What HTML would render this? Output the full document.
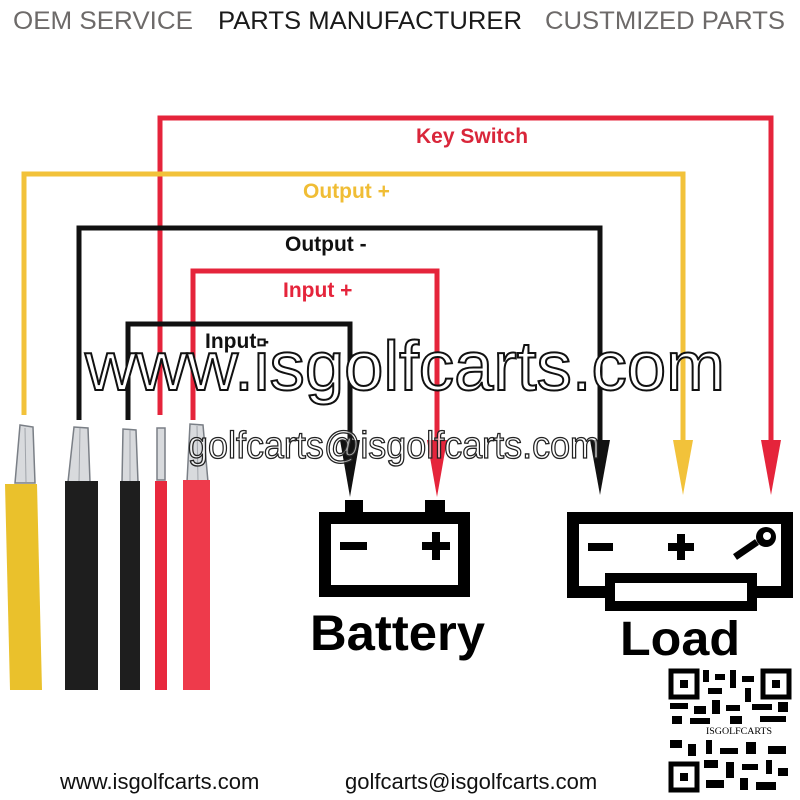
<!DOCTYPE html>
<html><head><meta charset="utf-8"><style>html,body{margin:0;padding:0;background:#fff}svg{display:block}</style></head><body>
<svg width="800" height="800" viewBox="0 0 800 800" xmlns="http://www.w3.org/2000/svg" font-family="Liberation Sans, Arial, sans-serif">
<rect width="800" height="800" fill="#fff"/>
<text x="13" y="29" font-size="25" fill="#6d6a69" textLength="180" lengthAdjust="spacingAndGlyphs">OEM SERVICE</text>
<text x="218" y="29" font-size="25" fill="#1a1a1a" textLength="304" lengthAdjust="spacingAndGlyphs">PARTS MANUFACTURER</text>
<text x="545" y="29" font-size="25" fill="#6d6a69" textLength="240" lengthAdjust="spacingAndGlyphs">CUSTMIZED PARTS</text>

<g fill="none" stroke-width="5" stroke-linejoin="miter">
<polyline points="160,415 160,118 771,118 771,450" stroke="#e5243b"/>
<polyline points="24,415 24,174 683,174 683,450" stroke="#f2c23a"/>
<polyline points="79,420 79,228 600,228 600,450" stroke="#111"/>
<polyline points="193,420 193,271 437,271 437,450" stroke="#e5243b"/>
<polyline points="128,420 128,324 350,324 350,450" stroke="#111"/>
</g>
<polygon points="340,440 360,440 350,497" fill="#111"/>
<polygon points="427,440 447,440 437,497" fill="#e5243b"/>
<polygon points="590,440 610,440 600,495" fill="#111"/>
<polygon points="673,440 693,440 683,495" fill="#f2c23a"/>
<polygon points="761,440 781,440 771,495" fill="#e5243b"/>

<g font-weight="bold" font-size="21">
<text x="416" y="143" fill="#d9263a">Key Switch</text>
<text x="303" y="198" fill="#f0bd35">Output +</text>
<text x="285" y="251" fill="#111">Output -</text>
<text x="283" y="297" fill="#e5243b">Input +</text>
<text x="205" y="348" fill="#111">Input -</text>
</g>

<g fill="#d8dadd" stroke="#7a7f86" stroke-width="1.5">
<polygon points="15,483 35,483 33,427 20,425"/>
<polygon points="68,482 90,482 88,428 74,427"/>
<polygon points="122,482 138,482 136,430 123,429"/>
<rect x="157" y="428" width="8" height="52"/>
<polygon points="187,482 208,482 203,425 190,424"/>
</g>
<g stroke="#a0a4aa" stroke-width="1">
<line x1="25" y1="428" x2="26" y2="482"/><line x1="80" y1="428" x2="79" y2="482"/><line x1="130" y1="430" x2="130" y2="482"/><line x1="197" y1="426" x2="198" y2="482"/>
</g>
<polygon points="5,484 37,484 42,690 10,690" fill="#eac12c"/>
<rect x="65" y="481" width="33" height="209" fill="#1e1e1e"/>
<rect x="120" y="481" width="20" height="209" fill="#1e1e1e"/>
<rect x="155" y="481" width="12" height="209" fill="#e8283d"/>
<rect x="183" y="480" width="27" height="210" fill="#ee3a4b"/>

<text x="85" y="390" font-size="70" fill="#fff" stroke="#111" stroke-width="2" textLength="640" lengthAdjust="spacingAndGlyphs">www.isgolfcarts.com</text>
<text x="188" y="458" font-size="38" fill="#fff" fill-opacity="0.6" stroke="#222" stroke-width="1.3" textLength="412" lengthAdjust="spacingAndGlyphs">golfcarts@isgolfcarts.com</text>

<rect x="345" y="500" width="18" height="14" fill="#000"/>
<rect x="425" y="500" width="20" height="14" fill="#000"/>
<rect x="325" y="518" width="139" height="73" fill="none" stroke="#000" stroke-width="12"/>
<rect x="340" y="542" width="27" height="8" fill="#000"/>
<rect x="422" y="542" width="28" height="8" fill="#000"/>
<rect x="432" y="532" width="8" height="28" fill="#000"/>
<text x="310" y="650" font-size="50" font-weight="bold" textLength="175" lengthAdjust="spacingAndGlyphs">Battery</text>

<rect x="573" y="518" width="214" height="74" fill="none" stroke="#000" stroke-width="12"/>
<rect x="610" y="578" width="142" height="28" fill="#fff" stroke="#000" stroke-width="10"/>
<rect x="588" y="543" width="25" height="8" fill="#000"/>
<rect x="668" y="543" width="26" height="8" fill="#000"/>
<rect x="677" y="534" width="8" height="26" fill="#000"/>
<line x1="735" y1="557" x2="757" y2="542" stroke="#000" stroke-width="7"/>
<circle cx="766" cy="537" r="10" fill="#000"/>
<circle cx="767" cy="536" r="4" fill="#fff"/>
<text x="620" y="655" font-size="48" font-weight="bold" textLength="120" lengthAdjust="spacingAndGlyphs">Load</text>

<text x="60" y="789" font-size="22" fill="#111">www.isgolfcarts.com</text>
<text x="345" y="789" font-size="22" fill="#111">golfcarts@isgolfcarts.com</text>

<g fill="#000">
<rect x="670" y="670" width="120" height="122" fill="#fff"/>
<rect x="671" y="671" width="26" height="26" fill="none" stroke="#000" stroke-width="5"/><rect x="680" y="680" width="8" height="8"/>
<rect x="763" y="671" width="26" height="26" fill="none" stroke="#000" stroke-width="5"/><rect x="772" y="680" width="8" height="8"/>
<rect x="671" y="764" width="26" height="26" fill="none" stroke="#000" stroke-width="5"/><rect x="680" y="773" width="8" height="8"/>
<rect x="703" y="670" width="6" height="12"/><rect x="715" y="674" width="10" height="6"/><rect x="730" y="670" width="6" height="18"/><rect x="742" y="676" width="12" height="6"/><rect x="708" y="688" width="14" height="6"/><rect x="745" y="688" width="6" height="14"/>
<rect x="670" y="703" width="18" height="6"/><rect x="694" y="706" width="12" height="8"/><rect x="712" y="700" width="8" height="14"/><rect x="726" y="705" width="14" height="6"/><rect x="752" y="704" width="20" height="6"/><rect x="778" y="702" width="10" height="10"/>
<rect x="672" y="716" width="10" height="8"/><rect x="690" y="718" width="20" height="6"/><rect x="730" y="716" width="12" height="8"/><rect x="760" y="716" width="26" height="6"/>
<rect x="670" y="740" width="12" height="8"/><rect x="688" y="744" width="8" height="12"/><rect x="706" y="740" width="6" height="14"/><rect x="720" y="748" width="18" height="6"/><rect x="746" y="742" width="10" height="12"/><rect x="768" y="746" width="18" height="8"/>
<rect x="704" y="760" width="14" height="8"/><rect x="726" y="762" width="8" height="16"/><rect x="742" y="764" width="16" height="6"/><rect x="766" y="760" width="6" height="14"/><rect x="778" y="768" width="10" height="8"/>
<rect x="706" y="780" width="18" height="8"/><rect x="740" y="778" width="8" height="12"/><rect x="756" y="782" width="20" height="8"/>
</g>
<rect x="704" y="724" width="70" height="12" fill="#fff"/>
<text x="706" y="734" font-size="9" font-family="Liberation Serif, serif" textLength="66" lengthAdjust="spacingAndGlyphs">ISGOLFCARTS</text>
</svg>
</body></html>
